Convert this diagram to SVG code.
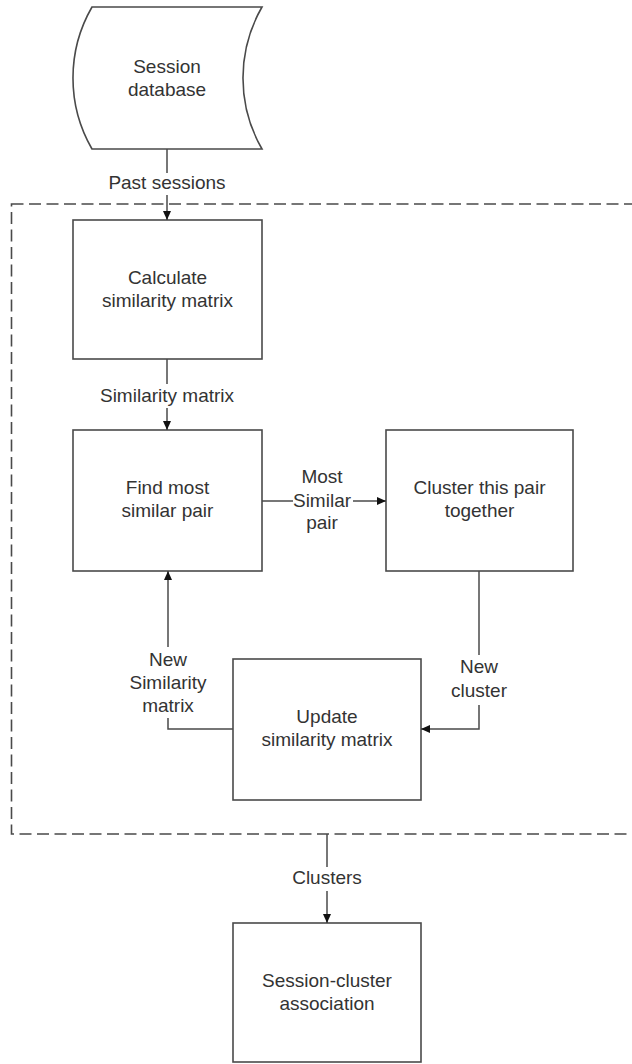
<svg xmlns="http://www.w3.org/2000/svg" width="632" height="1064" viewBox="0 0 632 1064">
<style>
.box{fill:#fff;stroke:#4a4a4a;stroke-width:1.6}
.ln{fill:none;stroke:#4a4a4a;stroke-width:1.5}
.dash{fill:none;stroke:#4a4a4a;stroke-width:1.6;stroke-dasharray:12 5.5}
text{font-family:"Liberation Sans",Arial,sans-serif;font-size:19px;fill:#333;text-anchor:middle}
</style>
<defs>
<marker id="ah" markerWidth="10" markerHeight="10" refX="9" refY="5" orient="auto" markerUnits="userSpaceOnUse">
<path d="M0,1 L9,5 L0,9 Z" fill="#111"/>
</marker>
</defs>
<rect class="dash" x="11.5" y="204" width="640" height="630"/>
<g id="session-database">
<path class="box" d="M92,7 L262,7 A142,142 0 0 0 262,149 L92,149 A142,142 0 0 1 92,7 Z"/>
<text x="167" y="73">Session</text>
<text x="167" y="96">database</text>
</g>
<g id="calculate">
<rect class="box" x="73" y="220" width="189" height="139"/>
<text x="167.5" y="284">Calculate</text>
<text x="167.5" y="307">similarity matrix</text>
</g>
<g id="find">
<rect class="box" x="73" y="430" width="189" height="141"/>
<text x="167.5" y="494">Find most</text>
<text x="167.5" y="517">similar pair</text>
</g>
<g id="cluster">
<rect class="box" x="386" y="430" width="187" height="141"/>
<text x="479.5" y="494">Cluster this pair</text>
<text x="479.5" y="517">together</text>
</g>
<g id="update">
<rect class="box" x="233" y="659" width="188" height="141"/>
<text x="327" y="723">Update</text>
<text x="327" y="746">similarity matrix</text>
</g>
<g id="association">
<rect class="box" x="233" y="923" width="188" height="139"/>
<text x="327" y="987">Session-cluster</text>
<text x="327" y="1010">association</text>
</g>
<g id="connectors">
<line class="ln" x1="167" y1="149" x2="167" y2="173"/>
<line class="ln" x1="167" y1="195" x2="167" y2="220" marker-end="url(#ah)"/>
<text x="167" y="189">Past sessions</text>
<line class="ln" x1="167" y1="359" x2="167" y2="384"/>
<line class="ln" x1="167" y1="408" x2="167" y2="430" marker-end="url(#ah)"/>
<text x="167" y="402">Similarity matrix</text>
<line class="ln" x1="262" y1="501" x2="293" y2="501"/>
<line class="ln" x1="353" y1="501" x2="386" y2="501" marker-end="url(#ah)"/>
<text x="322" y="483">Most</text>
<text x="322" y="507">Similar</text>
<text x="322" y="529">pair</text>
<line class="ln" x1="479" y1="571" x2="479" y2="655"/>
<polyline class="ln" points="479,705 479,729 421,729" marker-end="url(#ah)"/>
<text x="479" y="673">New</text>
<text x="479" y="697">cluster</text>
<polyline class="ln" points="233,729 168,729 168,718"/>
<line class="ln" x1="168" y1="647" x2="168" y2="571" marker-end="url(#ah)"/>
<text x="168" y="666">New</text>
<text x="168" y="689">Similarity</text>
<text x="168" y="712">matrix</text>
<line class="ln" x1="327" y1="834" x2="327" y2="867"/>
<line class="ln" x1="327" y1="891" x2="327" y2="923" marker-end="url(#ah)"/>
<text x="327" y="884">Clusters</text>
</g>
</svg>
